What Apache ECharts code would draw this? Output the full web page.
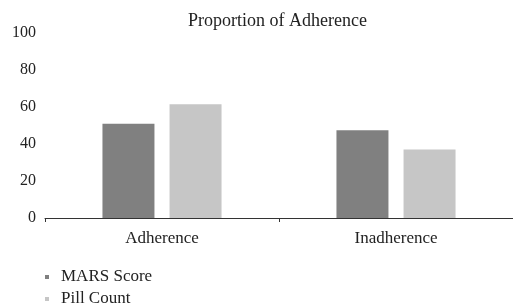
<!DOCTYPE html>
<html>
<head>
<meta charset="UTF-8">
<script src="https://cdn.jsdelivr.net/npm/echarts@6/dist/echarts.min.js"></script>
<style>
  html, body { margin: 0; padding: 0; background: #fff; }
  #chart { width: 513px; height: 307px; }
</style>
</head>
<body>
<div id="chart"></div>
<script>
var categories = ['Adherence', 'Inadherence'];
var marsScore = [51, 47.5];
var pillCount = [61.5, 37];
var seriesNames = ['MARS Score', 'Pill Count'];

var font = '"Liberation Serif", "DejaVu Serif", serif';
var chart = echarts.init(document.getElementById('chart'));

chart.setOption({
    animation: false,
    title: {
        text: 'Proportion of Adherence',
        left: 183,
        top: 7,
        textStyle: { fontFamily: font, fontSize: 18, fontWeight: 'normal', color: '#222' }
    },
    legend: {
        orient: 'vertical',
        left: 40,
        top: 262,
        height: 60,
        itemWidth: 4,
        itemHeight: 4,
        itemGap: 2,
        icon: 'rect',
        textStyle: { fontFamily: font, fontSize: 17, color: '#222', lineHeight: 20, padding: [0, 0, 0, 7] },
        data: seriesNames
    },
    grid: { left: 45, right: -2, top: 33, bottom: 89 },
    xAxis: {
        type: 'category',
        data: categories,
        axisLine: { lineStyle: { color: '#333', width: 1 } },
        axisTick: { show: true, length: 4, lineStyle: { color: '#333' } },
        axisLabel: { fontFamily: font, fontSize: 17, color: '#222', margin: 12 }
    },
    yAxis: {
        type: 'value',
        min: 0,
        max: 100,
        interval: 20,
        axisLine: { show: false },
        axisTick: { show: false },
        splitLine: { show: false },
        axisLabel: { fontFamily: font, fontSize: 16, color: '#222', margin: 9 }
    },
    series: [
        {
            name: seriesNames[0],
            type: 'bar',
            data: marsScore,
            barWidth: 52,
            barGap: '29%',
            itemStyle: { color: '#808080' }
        },
        {
            name: seriesNames[1],
            type: 'bar',
            data: pillCount,
            barWidth: 52,
            itemStyle: { color: '#c6c6c6' }
        }
    ]
});
</script>
</body>
</html>
